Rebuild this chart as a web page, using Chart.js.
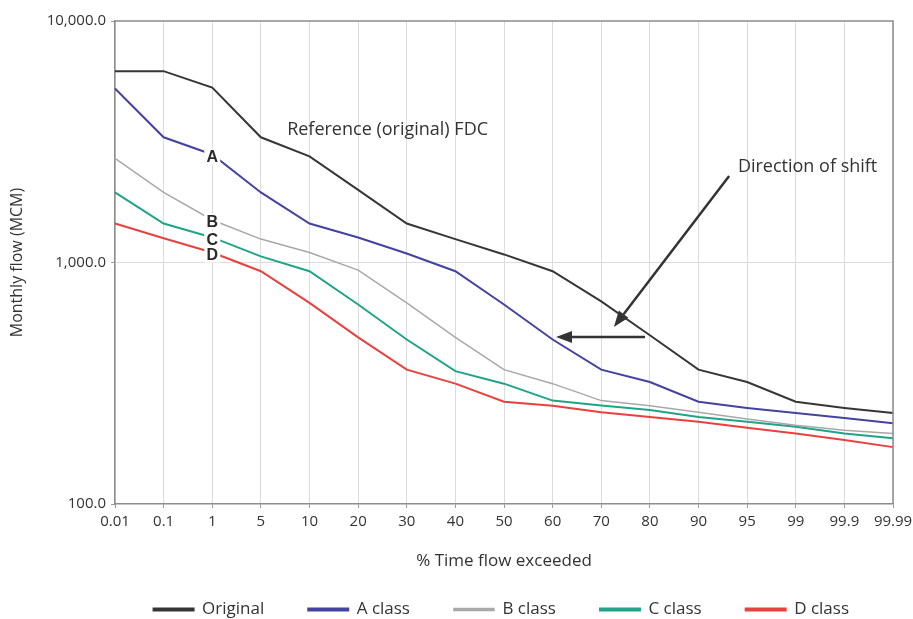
<!DOCTYPE html>
<html>
<head>
<meta charset="utf-8">
<title>Flow duration curves</title>
<script src="https://cdn.jsdelivr.net/npm/chart.js@4"></script>
<style>
  html, body { margin: 0; padding: 0; background: #fff; }
  #wrap { width: 913px; height: 619px; }
</style>
</head>
<body>
<div id="wrap"><canvas id="fdcChart"></canvas></div>
<script>
// % time flow exceeded (categories)
const exceedance = ['0.01', '0.1', '1', '5', '10', '20', '30', '40', '50', '60', '70', '80', '90', '95', '99', '99.9', '99.99'];

// Monthly flow (MCM)
const originalFlow = [6200, 6200, 5300, 3300, 2750, 2000, 1450, 1250, 1080, 920, 690, 500, 360, 320, 265, 250, 238];
const aClassFlow   = [5250, 3300, 2800, 1950, 1450, 1270, 1090, 920, 670, 480, 360, 320, 265, 250, 238, 227, 216];
const bClassFlow   = [2700, 1950, 1500, 1250, 1100, 930, 680, 490, 360, 315, 268, 255, 240, 225, 212, 202, 196];
const cClassFlow   = [1950, 1450, 1270, 1060, 920, 670, 480, 355, 315, 268, 256, 245, 229, 219, 209, 196, 187];
const dClassFlow   = [1450, 1260, 1100, 920, 680, 490, 360, 315, 265, 255, 240, 229, 219, 207, 196, 184, 172];

const yTicks = [100, 1000, 10000];

const seriesNames  = ['Original', 'A class', 'B class', 'C class', 'D class'];
const seriesColors = ['#363636', '#4343a0', '#a8a8a8', '#1fa487', '#e8413f'];
const seriesWidths = [2, 2, 1.5, 2, 2];
const curveLetters = [null, 'A', 'B', 'C', 'D'];

const FONT = '"Open Sans", Lato, sans-serif';
const TEXT = '#333';

// Annotations placed in data units (category index, flow)
const notes = [
    { text: 'Reference (original) FDC', idx: 3.54, val: 3540 },
    { text: 'Direction of shift', idx: 12.81, val: 2480 }
];
const arrows = [
    { from: [12.63, 2280], to: [10.26, 541] },
    { from: [10.9, 491], to: [9.07, 491] }
];

// Plot frame, curve letters, notes and arrows
const extrasPlugin = {
    id: 'extras',
    afterDatasetsDraw(chart) {
        const ctx = chart.ctx;
        const xs = chart.scales.x;
        const ys = chart.scales.y;
        const area = chart.chartArea;

        ctx.save();
        // frame (top / right)
        ctx.strokeStyle = '#8c8c8c';
        ctx.lineWidth = 1.5;
        ctx.beginPath();
        ctx.moveTo(area.left, area.top);
        ctx.lineTo(area.right, area.top);
        ctx.lineTo(area.right, area.bottom);
        ctx.stroke();

        // A/B/C/D letters on the curves at the "1" category
        ctx.font = 'bold 16px "Liberation Sans", Arial, sans-serif';
        ctx.textAlign = 'center';
        ctx.textBaseline = 'middle';
        chart.data.datasets.forEach((ds, i) => {
            const letter = curveLetters[i];
            if (!letter) return;
            const px = xs.getPixelForValue(2);
            const py = ys.getPixelForValue(ds.data[2]) + 2;
            ctx.fillStyle = '#fff';
            ctx.fillRect(px - 8, py - 8, 16, 16);
            ctx.fillStyle = '#2a2a2a';
            ctx.fillText(letter, px, py + 1);
        });

        // text notes
        ctx.font = '18px ' + FONT;
        ctx.textAlign = 'left';
        ctx.fillStyle = TEXT;
        notes.forEach(n => {
            ctx.fillText(n.text, xs.getPixelForValue(n.idx), ys.getPixelForValue(n.val));
        });

        // arrows
        ctx.strokeStyle = '#333';
        ctx.fillStyle = '#333';
        ctx.lineWidth = 2.5;
        arrows.forEach(a => {
            const x1 = xs.getPixelForValue(a.from[0]);
            const y1 = ys.getPixelForValue(a.from[1]);
            const x2 = xs.getPixelForValue(a.to[0]);
            const y2 = ys.getPixelForValue(a.to[1]);
            const ang = Math.atan2(y2 - y1, x2 - x1);
            const head = 16;
            const bx = x2 - head * Math.cos(ang);
            const by = y2 - head * Math.sin(ang);
            ctx.beginPath();
            ctx.moveTo(x1, y1);
            ctx.lineTo(bx, by);
            ctx.stroke();
            ctx.beginPath();
            ctx.moveTo(x2, y2);
            ctx.lineTo(bx + 6 * Math.sin(ang), by - 6 * Math.cos(ang));
            ctx.lineTo(bx - 6 * Math.sin(ang), by + 6 * Math.cos(ang));
            ctx.closePath();
            ctx.fill();
        });
        ctx.restore();
    }
};

const flowData = [originalFlow, aClassFlow, bClassFlow, cClassFlow, dClassFlow];

const ctx = document.getElementById('fdcChart').getContext('2d');
const fdcChart = new Chart(ctx, {
    type: 'line',
    data: {
        labels: exceedance,
        datasets: flowData.map((d, i) => ({
            label: seriesNames[i],
            data: d,
            borderColor: seriesColors[i],
            backgroundColor: seriesColors[i],
            borderWidth: seriesWidths[i],
            pointRadius: 0,
            tension: 0,
            fill: false
        }))
    },
    options: {
        responsive: true,
        maintainAspectRatio: false,
        animation: false,
        layout: {
            padding: { top: 21, right: 20, bottom: 0, left: 4 }
        },
        plugins: {
            legend: {
                position: 'bottom',
                align: 'end',
                maxHeight: 62,
                labels: {
                    boxWidth: 40,
                    boxHeight: 2,
                    padding: 44,
                    color: TEXT,
                    font: { family: FONT, size: 17 }
                }
            },
            tooltip: { enabled: false }
        },
        scales: {
            x: {
                offset: false,
                afterFit: scale => {
                    scale.height = 53;
                    scale.paddingLeft = 0;
                    scale.paddingRight = 0;
                },
                grid: {
                    color: '#dcdcdc',
                    tickColor: '#9a9a9a',
                    tickLength: 4
                },
                border: { color: '#8c8c8c', width: 1.5 },
                ticks: {
                    color: TEXT,
                    font: { family: FONT, size: 15 },
                    maxRotation: 0,
                    autoSkip: false,
                    padding: 5
                },
                title: {
                    display: true,
                    text: '% Time flow exceeded',
                    color: TEXT,
                    font: { family: FONT, size: 17 },
                    padding: { top: 0, bottom: -14 }
                }
            },
            y: {
                type: 'logarithmic',
                min: 100,
                max: 10000,
                afterBuildTicks: scale => {
                    scale.ticks = yTicks.map(v => ({ value: v }));
                },
                afterFit: scale => {
                    scale.width = 111;
                },
                grid: {
                    color: c => (c.tick && c.tick.value === 1000 ? '#dcdcdc' : 'rgba(0,0,0,0)'),
                    tickColor: '#9a9a9a',
                    tickLength: 4
                },
                border: { color: '#8c8c8c', width: 1.5 },
                ticks: {
                    color: TEXT,
                    font: { family: FONT, size: 15 },
                    padding: 5,
                    callback: v => Number(v).toLocaleString('en-US', { minimumFractionDigits: 1, maximumFractionDigits: 1 })
                },
                title: {
                    display: true,
                    text: 'Monthly flow (MCM)',
                    color: TEXT,
                    font: { family: FONT, size: 16 },
                    padding: { top: 4, bottom: 0 }
                }
            }
        }
    },
    plugins: [extrasPlugin]
});
</script>
</body>
</html>
